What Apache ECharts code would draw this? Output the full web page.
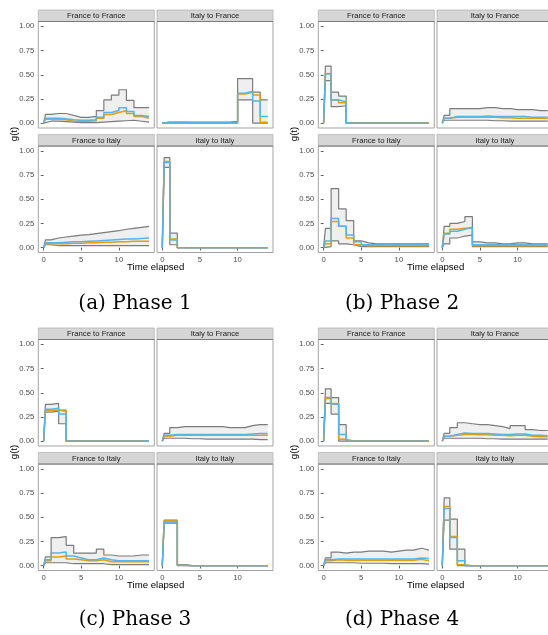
<!DOCTYPE html>
<html>
<head>
<meta charset="utf-8">
<title>g(t) by phase</title>
<script src="https://cdn.jsdelivr.net/npm/echarts@6/dist/echarts.min.js"></script>
<style>
    html, body { margin: 0; padding: 0; background: #fff; }
    #chart { width: 548px; height: 635px; }
</style>
</head>
<body>
<div id="chart"></div>
<script>
// --- Data ---
const stepStarts = [0, 1, 2, 3, 4, 5, 6, 7, 8, 9, 10, 11, 12, 13];
const tEnd = 14;
const rampEnd = 0.25; // curves start at 0 and jump up just after t = 0
const facetNames = ['France to France', 'Italy to France', 'France to Italy', 'Italy to Italy'];
const phaseCaptions = ['(a) Phase 1', '(b) Phase 2', '(c) Phase 3', '(d) Phase 4'];
const xTicks = [0, 5, 10];
const yTicks = [0, 0.25, 0.5, 0.75, 1];

// Phase 1
const p1_FF_hi   = [0.09, 0.10, 0.10, 0.08, 0.06, 0.06, 0.07, 0.13, 0.24, 0.29, 0.345, 0.235, 0.16, 0.16];
const p1_FF_lo   = [0.02, 0.02, 0.015, 0.01, 0.005, 0.005, 0.005, 0.01, 0.015, 0.02, 0.025, 0.03, 0.02, 0.01];
const p1_FF_blue = [0.05, 0.05, 0.045, 0.035, 0.03, 0.03, 0.035, 0.06, 0.11, 0.13, 0.16, 0.12, 0.08, 0.07];
const p1_FF_orng = [0.04, 0.04, 0.035, 0.02, 0.02, 0.02, 0.025, 0.05, 0.09, 0.11, 0.13, 0.10, 0.07, 0.05];

const p1_IF_hi   = [0.01, 0.01, 0.01, 0.01, 0.01, 0.01, 0.01, 0.01, 0.01, 0.02, 0.46, 0.46, 0.32, 0.24];
const p1_IF_lo   = [0, 0, 0, 0, 0, 0, 0, 0, 0, 0, 0.24, 0.24, 0, 0];
const p1_IF_blue = [0.01, 0.01, 0.01, 0.005, 0.005, 0.005, 0.005, 0.005, 0.005, 0.01, 0.31, 0.33, 0.23, 0.07];
const p1_IF_orng = [0.005, 0.005, 0.005, 0.005, 0.005, 0.005, 0.005, 0.005, 0.005, 0.005, 0.30, 0.32, 0.29, 0.01];

const p1_FI_hi   = [0.08, 0.10, 0.11, 0.12, 0.13, 0.135, 0.145, 0.155, 0.165, 0.175, 0.19, 0.20, 0.21, 0.22];
const p1_FI_lo   = [0.03, 0.02, 0.02, 0.02, 0.02, 0.02, 0.02, 0.02, 0.02, 0.02, 0.02, 0.02, 0.02, 0.02];
const p1_FI_blue = [0.05, 0.05, 0.055, 0.06, 0.06, 0.065, 0.07, 0.075, 0.08, 0.085, 0.09, 0.09, 0.095, 0.10];
const p1_FI_orng = [0.04, 0.04, 0.04, 0.045, 0.045, 0.05, 0.05, 0.055, 0.055, 0.06, 0.06, 0.065, 0.065, 0.065];

const p1_II_hi   = [0.93, 0.15, 0, 0, 0, 0, 0, 0, 0, 0, 0, 0, 0, 0];
const p1_II_lo   = [0.83, 0.03, 0, 0, 0, 0, 0, 0, 0, 0, 0, 0, 0, 0];
const p1_II_blue = [0.88, 0.08, 0, 0, 0, 0, 0, 0, 0, 0, 0, 0, 0, 0];
const p1_II_orng = [0.89, 0.09, 0, 0, 0, 0, 0, 0, 0, 0, 0, 0, 0, 0];

// Phase 2
const p2_FF_hi   = [0.59, 0.32, 0.28, 0, 0, 0, 0, 0, 0, 0, 0, 0, 0, 0];
const p2_FF_lo   = [0.44, 0.17, 0.18, 0, 0, 0, 0, 0, 0, 0, 0, 0, 0, 0];
const p2_FF_blue = [0.51, 0.24, 0.22, 0, 0, 0, 0, 0, 0, 0, 0, 0, 0, 0];
const p2_FF_orng = [0.51, 0.24, 0.21, 0, 0, 0, 0, 0, 0, 0, 0, 0, 0, 0];

const p2_IF_hi   = [0.08, 0.15, 0.15, 0.15, 0.15, 0.16, 0.16, 0.15, 0.15, 0.14, 0.14, 0.14, 0.13, 0.13];
const p2_IF_lo   = [0.03, 0.03, 0.03, 0.03, 0.03, 0.03, 0.025, 0.025, 0.02, 0.02, 0.02, 0.02, 0.02, 0.02];
const p2_IF_blue = [0.05, 0.07, 0.07, 0.07, 0.07, 0.075, 0.07, 0.07, 0.07, 0.07, 0.07, 0.06, 0.06, 0.06];
const p2_IF_orng = [0.05, 0.06, 0.06, 0.06, 0.06, 0.06, 0.06, 0.055, 0.055, 0.05, 0.05, 0.05, 0.05, 0.05];

const p2_FI_hi   = [0.20, 0.61, 0.40, 0.28, 0.07, 0.05, 0.04, 0.04, 0.04, 0.04, 0.04, 0.04, 0.04, 0.04];
const p2_FI_lo   = [0.01, 0.07, 0.04, 0.03, 0.01, 0.01, 0.01, 0.01, 0.01, 0.01, 0.01, 0.01, 0.01, 0.01];
const p2_FI_blue = [0.07, 0.30, 0.22, 0.13, 0.06, 0.03, 0.03, 0.03, 0.03, 0.03, 0.03, 0.03, 0.03, 0.03];
const p2_FI_orng = [0.04, 0.27, 0.22, 0.10, 0.03, 0.02, 0.02, 0.02, 0.02, 0.02, 0.02, 0.02, 0.02, 0.02];

const p2_II_hi   = [0.22, 0.25, 0.27, 0.32, 0.06, 0.05, 0.05, 0.04, 0.04, 0.05, 0.05, 0.04, 0.04, 0.04];
const p2_II_lo   = [0.04, 0.10, 0.12, 0.13, 0.01, 0.01, 0.01, 0.01, 0.01, 0.01, 0.01, 0.01, 0.01, 0.01];
const p2_II_blue = [0.14, 0.17, 0.19, 0.21, 0.03, 0.03, 0.03, 0.03, 0.03, 0.03, 0.03, 0.03, 0.03, 0.03];
const p2_II_orng = [0.15, 0.19, 0.20, 0.20, 0.02, 0.02, 0.02, 0.02, 0.02, 0.02, 0.02, 0.02, 0.02, 0.02];

// Phase 3
const p3_FF_hi   = [0.38, 0.39, 0.32, 0, 0, 0, 0, 0, 0, 0, 0, 0, 0, 0];
const p3_FF_lo   = [0.30, 0.31, 0.18, 0, 0, 0, 0, 0, 0, 0, 0, 0, 0, 0];
const p3_FF_blue = [0.33, 0.34, 0.28, 0, 0, 0, 0, 0, 0, 0, 0, 0, 0, 0];
const p3_FF_orng = [0.32, 0.32, 0.31, 0, 0, 0, 0, 0, 0, 0, 0, 0, 0, 0];

const p3_IF_hi   = [0.08, 0.14, 0.15, 0.15, 0.15, 0.15, 0.15, 0.15, 0.14, 0.14, 0.14, 0.16, 0.17, 0.17];
const p3_IF_lo   = [0.03, 0.03, 0.03, 0.025, 0.025, 0.02, 0.02, 0.02, 0.02, 0.02, 0.02, 0.02, 0.015, 0.015];
const p3_IF_blue = [0.06, 0.07, 0.07, 0.07, 0.07, 0.07, 0.07, 0.07, 0.07, 0.07, 0.07, 0.075, 0.08, 0.08];
const p3_IF_orng = [0.05, 0.06, 0.06, 0.06, 0.06, 0.06, 0.06, 0.06, 0.06, 0.06, 0.06, 0.06, 0.06, 0.06];

const p3_FI_hi   = [0.09, 0.29, 0.30, 0.21, 0.13, 0.13, 0.13, 0.17, 0.11, 0.10, 0.10, 0.10, 0.11, 0.11];
const p3_FI_lo   = [0.03, 0.03, 0.03, 0.02, 0.02, 0.02, 0.02, 0.02, 0.01, 0.01, 0.01, 0.01, 0.01, 0.01];
const p3_FI_blue = [0.06, 0.13, 0.14, 0.10, 0.08, 0.06, 0.06, 0.08, 0.06, 0.05, 0.05, 0.05, 0.05, 0.05];
const p3_FI_orng = [0.05, 0.09, 0.10, 0.07, 0.06, 0.05, 0.05, 0.06, 0.04, 0.04, 0.04, 0.04, 0.04, 0.04];

const p3_II_hi   = [0.47, 0.47, 0.01, 0, 0, 0, 0, 0, 0, 0, 0, 0, 0, 0];
const p3_II_lo   = [0.44, 0.44, 0, 0, 0, 0, 0, 0, 0, 0, 0, 0, 0, 0];
const p3_II_blue = [0.45, 0.45, 0.005, 0, 0, 0, 0, 0, 0, 0, 0, 0, 0, 0];
const p3_II_orng = [0.46, 0.46, 0.005, 0, 0, 0, 0, 0, 0, 0, 0, 0, 0, 0];

// Phase 4
const p4_FF_hi   = [0.54, 0.45, 0.17, 0, 0, 0, 0, 0, 0, 0, 0, 0, 0, 0];
const p4_FF_lo   = [0.39, 0.28, 0, 0, 0, 0, 0, 0, 0, 0, 0, 0, 0, 0];
const p4_FF_blue = [0.45, 0.38, 0.07, 0, 0, 0, 0, 0, 0, 0, 0, 0, 0, 0];
const p4_FF_orng = [0.44, 0.39, 0.02, 0, 0, 0, 0, 0, 0, 0, 0, 0, 0, 0];

const p4_IF_hi   = [0.08, 0.14, 0.19, 0.18, 0.17, 0.17, 0.16, 0.15, 0.13, 0.16, 0.16, 0.12, 0.11, 0.11];
const p4_IF_lo   = [0.03, 0.03, 0.03, 0.03, 0.03, 0.025, 0.025, 0.02, 0.02, 0.02, 0.02, 0.02, 0.02, 0.02];
const p4_IF_blue = [0.05, 0.07, 0.085, 0.08, 0.08, 0.08, 0.075, 0.07, 0.07, 0.075, 0.075, 0.06, 0.06, 0.055];
const p4_IF_orng = [0.05, 0.06, 0.07, 0.07, 0.065, 0.065, 0.06, 0.06, 0.055, 0.06, 0.06, 0.05, 0.045, 0.045];

const p4_FI_hi   = [0.08, 0.14, 0.13, 0.14, 0.14, 0.15, 0.15, 0.15, 0.14, 0.15, 0.16, 0.16, 0.18, 0.16];
const p4_FI_lo   = [0.03, 0.03, 0.03, 0.03, 0.025, 0.025, 0.025, 0.025, 0.02, 0.02, 0.02, 0.02, 0.02, 0.015];
const p4_FI_blue = [0.06, 0.07, 0.07, 0.07, 0.07, 0.07, 0.07, 0.07, 0.07, 0.07, 0.07, 0.07, 0.08, 0.075];
const p4_FI_orng = [0.05, 0.06, 0.055, 0.055, 0.055, 0.055, 0.055, 0.055, 0.055, 0.055, 0.055, 0.055, 0.065, 0.05];

const p4_II_hi   = [0.70, 0.48, 0.17, 0, 0, 0, 0, 0, 0, 0, 0, 0, 0, 0];
const p4_II_lo   = [0.47, 0.17, 0, 0, 0, 0, 0, 0, 0, 0, 0, 0, 0, 0];
const p4_II_blue = [0.59, 0.29, 0.05, 0, 0, 0, 0, 0, 0, 0, 0, 0, 0, 0];
const p4_II_orng = [0.61, 0.30, 0.01, 0, 0, 0, 0, 0, 0, 0, 0, 0, 0, 0];

// facet order: FF, IF (top row), FI, II (bottom row)
const phases = [
    [[p1_FF_hi, p1_FF_lo, p1_FF_blue, p1_FF_orng], [p1_IF_hi, p1_IF_lo, p1_IF_blue, p1_IF_orng],
     [p1_FI_hi, p1_FI_lo, p1_FI_blue, p1_FI_orng], [p1_II_hi, p1_II_lo, p1_II_blue, p1_II_orng]],
    [[p2_FF_hi, p2_FF_lo, p2_FF_blue, p2_FF_orng], [p2_IF_hi, p2_IF_lo, p2_IF_blue, p2_IF_orng],
     [p2_FI_hi, p2_FI_lo, p2_FI_blue, p2_FI_orng], [p2_II_hi, p2_II_lo, p2_II_blue, p2_II_orng]],
    [[p3_FF_hi, p3_FF_lo, p3_FF_blue, p3_FF_orng], [p3_IF_hi, p3_IF_lo, p3_IF_blue, p3_IF_orng],
     [p3_FI_hi, p3_FI_lo, p3_FI_blue, p3_FI_orng], [p3_II_hi, p3_II_lo, p3_II_blue, p3_II_orng]],
    [[p4_FF_hi, p4_FF_lo, p4_FF_blue, p4_FF_orng], [p4_IF_hi, p4_IF_lo, p4_IF_blue, p4_IF_orng],
     [p4_FI_hi, p4_FI_lo, p4_FI_blue, p4_FI_orng], [p4_II_hi, p4_II_lo, p4_II_blue, p4_II_orng]]
];

// --- Layout / style ---
const phaseOffsets = [[0, 0], [280, 0], [0, 318], [280, 318]];
const captionX = [135, 402, 135, 402];
const captionY = [304, 304, 620, 620];
const PANEL = { left: 38.3, top: 21.5, w: 116, h: 106.5, colGap: 2.7, rowStep: 124.5, strip: 11.5 };
const SANS = 'Liberation Sans, Arial, sans-serif';
const COLORS = { blue: '#56B4E9', orange: '#E69F00', band: '#efefef', bandLine: '#7b7b7b' };

// step curve: 0 at t=0, then value k held on [k, k+1)
function stepPoints(vals) {
    const pts = [[0, 0]];
    vals.forEach((v, i) => {
        const start = i === 0 ? rampEnd : stepStarts[i];
        const end = i + 1 < stepStarts.length ? stepStarts[i + 1] : tEnd;
        pts.push([start, v], [end, v]);
    });
    return pts;
}

// band data rows: [t, lower, upper]
function bandRows(lo, hi) {
    const l = stepPoints(lo), h = stepPoints(hi);
    return l.map((pt, i) => [pt[0], pt[1], h[i][1]]);
}

const grids = [], xAxes = [], yAxes = [], series = [], graphics = [];

phases.forEach((facets, p) => {
    const [ox, oy] = phaseOffsets[p];
    facets.forEach((f, fi) => {
        const row = Math.floor(fi / 2), col = fi % 2;
        const k = grids.length;
        const left = ox + PANEL.left + col * (PANEL.w + PANEL.colGap);
        const top = oy + PANEL.top + row * PANEL.rowStep;
        const isBottom = row === 1, isLeft = col === 0;
        const [hi, lo, blue, orng] = f;

        grids.push({ left, top, width: PANEL.w, height: PANEL.h, show: true, backgroundColor: '#fff',
            borderColor: '#a3a3a3', borderWidth: 1, containLabel: false, outerBoundsMode: 'none' });

        xAxes.push({ gridIndex: k, type: 'value', min: -0.7, max: 14.7,
            axisLine: { show: false }, splitLine: { show: false },
            axisTick: { show: isBottom, length: 2.8, customValues: xTicks, lineStyle: { color: '#333', width: 0.8 } },
            axisLabel: { show: isBottom, customValues: xTicks, margin: 3.5, fontSize: 7.7, color: '#4d4d4d', fontFamily: SANS } });

        yAxes.push({ gridIndex: k, type: 'value', min: -0.05, max: 1.05,
            axisLine: { show: false }, splitLine: { show: false },
            axisTick: { show: isLeft, length: 2.8, customValues: yTicks, lineStyle: { color: '#333', width: 0.8 } },
            axisLabel: { show: isLeft, customValues: yTicks, margin: 4, fontSize: 7.7, color: '#4d4d4d', fontFamily: SANS,
                formatter: v => v.toFixed(2) } });

        const base = { symbol: 'none', showSymbol: false, silent: true, animation: false,
            xAxisIndex: k, yAxisIndex: k };

        // ribbon between lower and upper, drawn once as one polygon
        const rows = bandRows(lo, hi);
        series.push(Object.assign({}, base, { type: 'custom', name: 'band', data: rows,
            encode: { x: 0, y: [1, 2] },
            renderItem: (params, api) => {
                if (params.dataIndex !== 0) return null;
                const upperPts = rows.map(r => api.coord([r[0], r[2]]));
                const lowerPts = rows.map(r => api.coord([r[0], r[1]])).reverse();
                return { type: 'polygon', shape: { points: upperPts.concat(lowerPts) },
                    style: { fill: COLORS.band } };
            } }));
        series.push(Object.assign({}, base, { type: 'line', name: 'lower', data: stepPoints(lo),
            lineStyle: { color: COLORS.bandLine, width: 1.2 } }));
        series.push(Object.assign({}, base, { type: 'line', name: 'upper', data: stepPoints(hi),
            lineStyle: { color: COLORS.bandLine, width: 1.2 } }));
        series.push(Object.assign({}, base, { type: 'line', name: 'orange', data: stepPoints(orng),
            lineStyle: { color: COLORS.orange, width: 1.5 } }));
        series.push(Object.assign({}, base, { type: 'line', name: 'blue', data: stepPoints(blue),
            lineStyle: { color: COLORS.blue, width: 1.5 } }));

        // facet strip
        graphics.push({ type: 'rect', silent: true, z: 10,
            shape: { x: left, y: top - PANEL.strip, width: PANEL.w, height: PANEL.strip },
            style: { fill: '#d6d6d6', stroke: '#b5b5b5', lineWidth: 0.8 } });
        graphics.push({ type: 'line', silent: true, z: 11,
            shape: { x1: left, y1: top, x2: left + PANEL.w, y2: top },
            style: { stroke: '#7a7a7a', lineWidth: 1 } });
        graphics.push({ type: 'text', silent: true, z: 12,
            style: { text: facetNames[fi], x: left + PANEL.w / 2, y: top - PANEL.strip / 2 + 0.5,
                textAlign: 'center', textVerticalAlign: 'middle', fill: '#1a1a1a', font: '7.7px ' + SANS } });
    });

    // axis titles
    const midY = oy + PANEL.top + (PANEL.rowStep + PANEL.h) / 2;
    const midX = ox + PANEL.left + PANEL.w + PANEL.colGap / 2;
    graphics.push({ type: 'text', silent: true, x: ox + 14, y: midY - 3, rotation: Math.PI / 2,
        style: { text: 'g(t)', x: 0, y: 0, textAlign: 'center', textVerticalAlign: 'middle', fill: '#000', font: '9.6px ' + SANS } });
    graphics.push({ type: 'text', silent: true,
        style: { text: 'Time elapsed', x: midX, y: oy + 267, textAlign: 'center', textVerticalAlign: 'middle', fill: '#000', font: '9.6px ' + SANS } });
    // subfigure caption
    graphics.push({ type: 'text', silent: true,
        style: { text: phaseCaptions[p], x: captionX[p], y: captionY[p], textAlign: 'center', textVerticalAlign: 'middle', fill: '#000', font: '20px DejaVu Serif, serif' } });
});

const chart = echarts.init(document.getElementById('chart'), null, { renderer: 'canvas' });
chart.setOption({
    animation: false,
    backgroundColor: '#fff',
    grid: grids,
    xAxis: xAxes,
    yAxis: yAxes,
    series: series,
    graphic: { elements: graphics }
});
</script>
</body>
</html>
